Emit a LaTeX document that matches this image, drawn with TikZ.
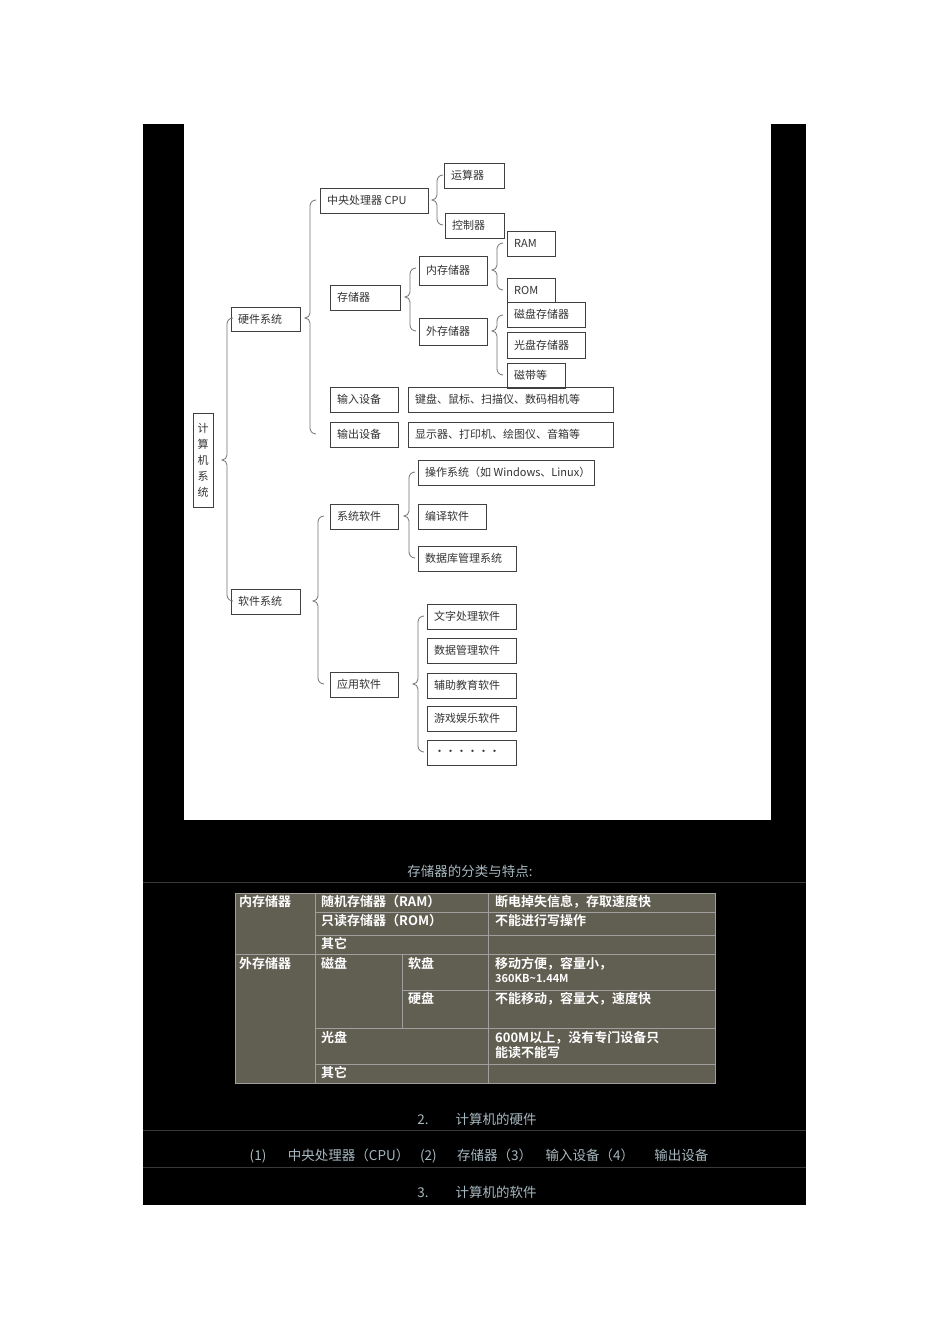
\documentclass[tikz,border=0pt]{standalone}
\usepackage{fontspec}
\newfontfamily\cjk{Noto Sans CJK SC}
\newfontfamily\cjkb{Noto Sans CJK SC Bold}
\setmainfont{DejaVu Sans}
\newcommand{\mybrace}[4]{% x, top, mid, bot
  \draw[brc] (#1+6,#2) to[out=180,in=90] (#1,#2+6) -- (#1,#3-5) to[out=-90,in=0] (#1-5,#3) to[out=0,in=90] (#1,#3+5) -- (#1,#4-6) to[out=-90,in=180] (#1+6,#4);}
\begin{document}
\begin{tikzpicture}[x=1pt,y=-1pt,
  bx/.style={draw=black!75,line width=0.9pt,inner sep=0pt,anchor=north west},
  lbl/.style={font=\cjk\fontsize{11}{13}\selectfont,text=black!80,anchor=west,inner sep=0pt},
  brc/.style={draw=black!55,line width=0.8pt},
  tl/.style={draw=gray!75!white,line width=0.8pt},
  tt/.style={font=\cjkb\fontsize{13}{15}\selectfont,text=white,anchor=north west,inner sep=0pt,align=left},
  bt/.style={font=\cjk\fontsize{13.5}{15}\selectfont,text=gray!80!cyan!70!white}]
\useasboundingbox (0,0) rectangle (950,1344);
\fill[white] (0,0) rectangle (950,1344);
\fill[black] (143,124) rectangle (806,1205);
\fill[white] (184,124) rectangle (771,820);
\newcommand{\bxn}[6]{\node[bx,minimum width=#4-#2,minimum height=#5-#3] (#1) at (#2,#3) {};\node[lbl] at (#2+7,#3/2+#5/2) {#6};}
\node[bx,minimum width=20,minimum height=94] (root) at (193,413) {};
\node[font=\cjk\fontsize{11}{16}\selectfont,text=black!80,align=center,inner sep=0pt] at (203,460) {计\\算\\机\\系\\统};
\bxn{hw}{231}{307}{300}{331}{硬件系统}
\bxn{sw}{231}{589}{300}{614}{软件系统}
\bxn{cpu}{320}{188}{428}{213}{中央处理器 CPU}
\bxn{alu}{444}{163}{504}{188}{运算器}
\bxn{ctl}{445}{213}{504}{238}{控制器}
\bxn{mem}{330}{285}{400}{310}{存储器}
\bxn{inm}{419}{256}{487}{285}{内存储器}
\bxn{exm}{419}{318}{487}{345}{外存储器}
\bxn{ram}{507}{231}{555}{256}{RAM}
\bxn{rom}{507}{278}{555}{302}{ROM}
\bxn{disk}{507}{302}{585}{327}{磁盘存储器}
\bxn{cd}{507}{332}{585}{358}{光盘存储器}
\bxn{tape}{507}{363}{565}{388}{磁带等}
\bxn{in}{330}{387}{398}{412}{输入设备}
\bxn{inx}{408}{387}{613}{412}{键盘、鼠标、扫描仪、数码相机等}
\bxn{out}{330}{422}{398}{447}{输出设备}
\bxn{outx}{408}{422}{613}{447}{显示器、打印机、绘图仪、音箱等}
\bxn{sys}{330}{504}{398}{529}{系统软件}
\bxn{os}{418}{460}{594}{485}{操作系统（如 Windows、Linux）}
\bxn{cmp}{418}{504}{486}{529}{编译软件}
\bxn{db}{418}{546}{516}{571}{数据库管理系统}
\bxn{app}{330}{672}{398}{697}{应用软件}
\bxn{a1}{427}{604}{516}{629}{文字处理软件}
\bxn{a2}{427}{638}{516}{663}{数据管理软件}
\bxn{a3}{427}{673}{516}{698}{辅助教育软件}
\bxn{a4}{427}{706}{516}{731}{游戏娱乐软件}
\bxn{a5}{427}{740}{516}{765}{······}
\mybrace{227}{318}{460}{601}
\mybrace{310}{200}{318}{434}
\mybrace{437}{175}{200}{225}
\mybrace{410}{268}{297}{331}
\mybrace{497}{243}{270}{290}
\mybrace{497}{315}{331}{375}
\mybrace{318}{516}{601}{684}
\mybrace{409}{472}{516}{558}
\mybrace{418}{616}{684}{752}
\foreach \y in {882,1130,1167} \draw[gray!45!black,line width=0.7pt] (143,\y) -- (806,\y);
\node[bt] (cap) at (470,871) {存储器的分类与特点:};
\fill[gray!50!black!85!olive] (235,893) rectangle (715,1083);
\draw[tl] (235,893) rectangle (715,1083);
\draw[tl] (315,893) -- (315,1083) (488,893) -- (488,1083) (402,954) -- (402,1028);
\draw[tl] (315,912) -- (715,912) (315,935) -- (715,935) (235,954) -- (715,954)
  (402,990) -- (715,990) (315,1028) -- (715,1028) (315,1064) -- (715,1064);
\node[tt] at (239,895) {内存储器};
\node[tt] at (321,895) {随机存储器（RAM）};
\node[tt] at (495,895) {断电掉失信息，存取速度快};
\node[tt] at (321,914) {只读存储器（ROM）};
\node[tt] at (495,914) {不能进行写操作};
\node[tt] at (321,937) {其它};
\node[tt] at (239,957) {外存储器};
\node[tt] at (321,957) {磁盘};
\node[tt] at (408,957) {软盘};
\node[tt] at (495,957) {移动方便，容量小，\\[-1pt]{\fontsize{11}{12}\selectfont 360KB\char`~1.44M}};
\node[tt] at (408,992) {硬盘};
\node[tt] at (495,992) {不能移动，容量大，速度快};
\node[tt] at (321,1031) {光盘};
\node[tt] at (495,1031) {600M以上，没有专门设备只\\能读不能写};
\node[tt] at (321,1066) {其它};
\node[bt] at (477,1119) {2.\qquad 计算机的硬件};
\node[bt] at (479,1156) {(1)\hspace{1.6em}中央处理器（CPU）\hspace{0.8em}(2)\hspace{1.5em}存储器（3）\hspace{1em}输入设备（4）\hspace{1.5em}输出设备};
\node[bt] at (477,1192) {3.\qquad 计算机的软件};
\end{tikzpicture}
\end{document}
